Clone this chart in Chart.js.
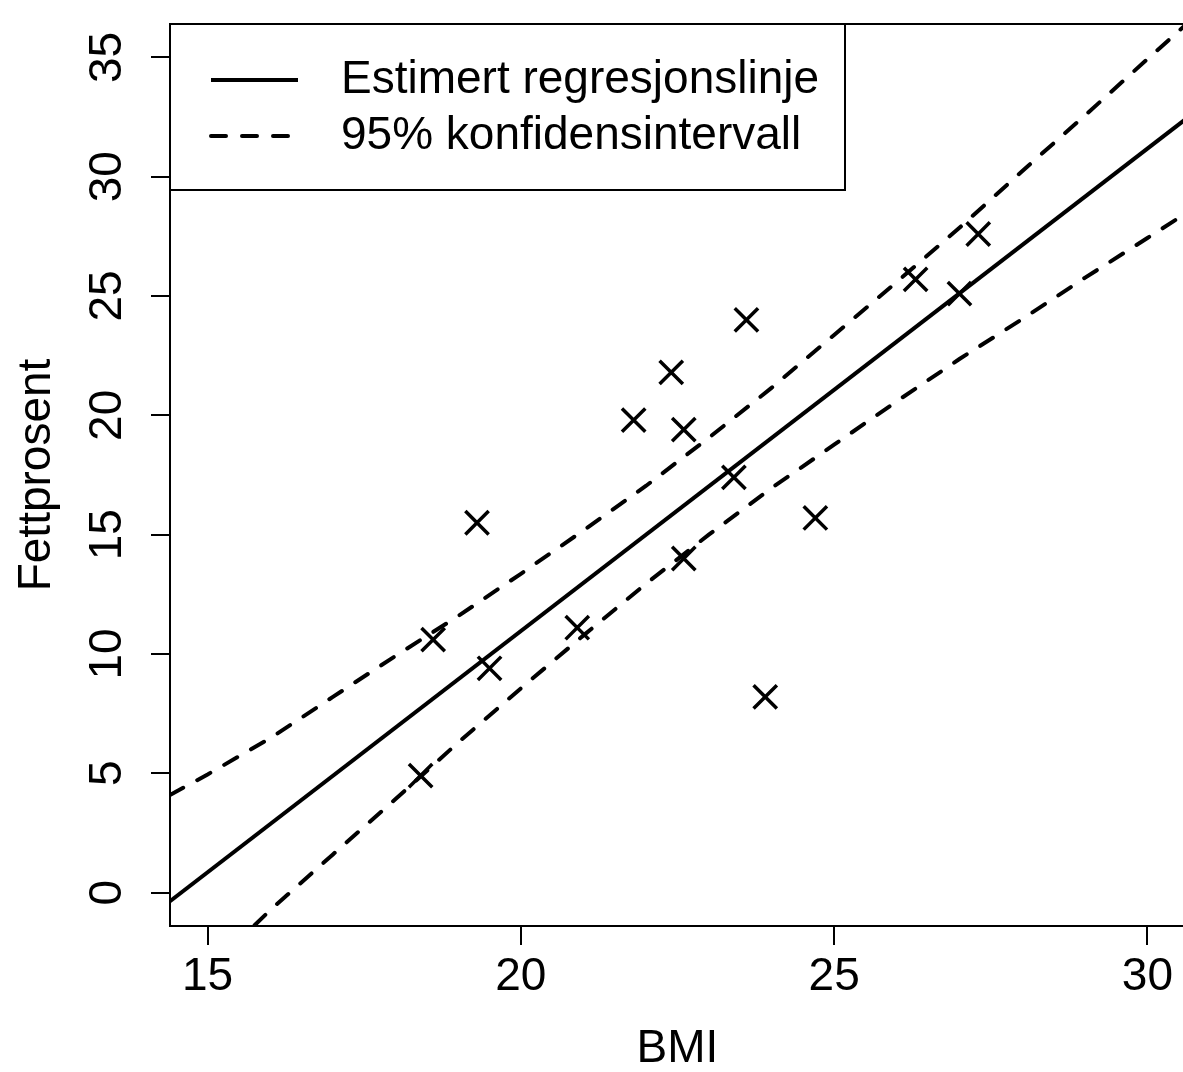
<!DOCTYPE html>
<html lang="no">
<head>
<meta charset="utf-8">
<title>Fettprosent mot BMI</title>
<script src="https://cdn.jsdelivr.net/npm/chart.js@4.4.1/dist/chart.umd.min.js"></script>
<style>
html,body{margin:0;padding:0;background:#fff;overflow:hidden;}
#wrap{width:1300px;height:1072px;}
</style>
</head>
<body>
<div id="wrap"><canvas id="plot" width="1200" height="1072"></canvas></div>
<script>
// observasjoner (lest av figuren)
const bmi  = [18.4, 18.6, 19.3, 19.5, 20.9, 21.8, 22.4, 22.6, 22.6, 23.4, 23.6, 23.9, 24.7, 26.3, 27.0, 27.3];
const fett = [4.9, 10.6, 15.5, 9.4, 11.1, 19.8, 21.8, 19.4, 14.0, 17.4, 24.0, 8.2, 15.7, 25.7, 25.1, 27.6];

// estimert regresjonslinje, endepunkter
const regX = [14.4, 30.6];
const regY = [-0.36, 32.39];

// 95% konfidensintervall, øvre og nedre kurve
const upperX = [14.4, 15, 16, 17, 18, 19, 20, 21, 22, 23, 24, 25, 26, 27, 28, 29, 30, 30.6];
const upperY = [4.09, 4.95, 6.47, 8.20, 9.92, 11.59, 13.36, 15.18, 17.05, 19.06, 21.15, 23.37, 25.59, 27.86, 30.23, 32.56, 34.93, 36.34];
const lowerX = [15.75, 16, 17, 18, 19, 20, 21, 22, 23, 24, 25, 26, 27, 28, 29, 30, 30.6];
const lowerY = [-1.37, -0.73, 1.60, 3.92, 6.29, 8.56, 10.78, 12.95, 15.00, 16.95, 18.77, 20.59, 22.36, 24.03, 25.76, 27.43, 28.44];

// akser
const xTicks = [15, 20, 25, 30];
const yTicks = [0, 5, 10, 15, 20, 25, 30, 35];
const xRange = [14.4, 30.6];
const yRange = [-1.4, 36.4];

const $ = (id) => document.getElementById(id);
const FONT = "'Liberation Sans', Arial, Helvetica, sans-serif";
const pts = (xs, ys) => xs.map((x, i) => ({x, y: ys[i]}));

Chart.defaults.font.family = FONT;
Chart.defaults.color = "#000";

const DASH = [15, 16];
const LW = 4;
const AREA_RIGHT = 1185;   // plottrammen høyre kant ligger rett utenfor bildet

const framePlugin = {
  id: "frame",
  afterDraw(chart){
    const {ctx, chartArea:a} = chart;
    ctx.save();
    ctx.strokeStyle = "#000"; ctx.lineWidth = 2;
    ctx.strokeRect(a.left, a.top, a.right - a.left, a.bottom - a.top);
    ctx.restore();
  }
};

// R-aktig legend med ramme øverst til venstre i plottet
const legendPlugin = {
  id: "rlegend",
  afterDraw(chart){
    const {ctx, chartArea:a} = chart;
    const items = chart.data.datasets.filter(d => d.inLegend);
    ctx.save();
    ctx.fillStyle = "#fff";
    ctx.fillRect(a.left, a.top, 675, 166);
    ctx.strokeStyle = "#000"; ctx.lineWidth = 2;
    ctx.strokeRect(a.left, a.top, 675, 166);
    items.forEach((d, i) => {
      const y = a.top + 56 + i*56;
      ctx.beginPath();
      ctx.setLineDash(d.borderDash || []);
      ctx.lineCap = d.borderCapStyle || "butt";
      ctx.lineWidth = d.borderWidth;
      ctx.moveTo(a.left + 41, y); ctx.lineTo(a.left + 128, y);
      ctx.stroke();
      ctx.setLineDash([]);
      ctx.fillStyle = "#000";
      ctx.font = "46px " + FONT;
      ctx.textBaseline = "middle";
      ctx.fillText(d.label, a.left + 171, y);
    });
    ctx.restore();
  }
};

const lineDs = (label, data, dash, inLegend) => ({
  label, data, inLegend,
  showLine: true, fill: false,
  borderColor: "#000", borderWidth: LW,
  borderDash: dash, borderCapStyle: dash.length ? "round" : "butt",
  pointRadius: 0, pointHoverRadius: 0
});

const noPad = s => { s.paddingTop = 0; s.paddingBottom = 0; s.paddingLeft = 0; s.paddingRight = 0; };

const chart = new Chart($("plot"), {
  type: "scatter",
  data: {
    datasets: [
      {
        label: "Observasjoner",
        data: pts(bmi, fett),
        showLine: false,
        pointStyle: "crossRot",
        pointRadius: 16.5, pointHoverRadius: 16.5,
        pointBorderWidth: 3.5,
        borderColor: "#000", backgroundColor: "#000"
      },
      lineDs("Estimert regresjonslinje", pts(regX, regY), [], true),
      lineDs("95% konfidensintervall", pts(upperX, upperY), DASH, true),
      lineDs("95% konfidensintervall (nedre)", pts(lowerX, lowerY), DASH, false)
    ]
  },
  options: {
    responsive: false, maintainAspectRatio: false, animation: false, devicePixelRatio: 1,
    layout: { padding: { top: 24, right: 0, left: 0, bottom: 0 } },
    plugins: { legend: { display: false }, tooltip: { enabled: false } },
    scales: {
      x: {
        type: "linear", min: xRange[0], max: xRange[1],
        afterBuildTicks: s => { s.ticks = xTicks.map(v => ({value: v})); },
        afterFit: s => { s.height = 146; noPad(s); },
        grid: { display: true, drawOnChartArea: false, drawTicks: true, tickLength: 19, lineWidth: 2, color: "#000" },
        border: { display: true, color: "#000", width: 2 },
        ticks: { autoSkip: false, padding: 9, color: "#000", font: { size: 46, lineHeight: 1 }, callback: v => String(v) },
        title: { display: true, text: "BMI", color: "#000", font: { size: 46, lineHeight: 1 }, padding: { top: 0, bottom: 0 } }
      },
      y: {
        type: "linear", min: yRange[0], max: yRange[1],
        afterBuildTicks: s => { s.ticks = yTicks.map(v => ({value: v})); },
        afterFit: s => { s.width = 170; noPad(s); },
        grid: { display: true, drawOnChartArea: false, drawTicks: true, tickLength: 19, lineWidth: 2, color: "#000" },
        border: { display: true, color: "#000", width: 2 },
        ticks: { autoSkip: false, minRotation: 90, maxRotation: 90, crossAlign: "center", padding: 17, color: "#000", font: { size: 46, lineHeight: 1 }, callback: v => String(v) },
        title: { display: true, text: "Fettprosent", color: "#000", font: { size: 46, lineHeight: 1 }, padding: { top: 14, bottom: 0 } }
      }
    }
  },
  plugins: [framePlugin, legendPlugin]
});

// juster lerretsbredden til plottområdet slutter der det skal
for(let i = 0; i < 3; i++){
  const diff = AREA_RIGHT - chart.chartArea.right;
  if(Math.abs(diff) < 0.5) break;
  chart.resize(Math.round(chart.width + diff), 1072);
}
</script>
</body>
</html>
